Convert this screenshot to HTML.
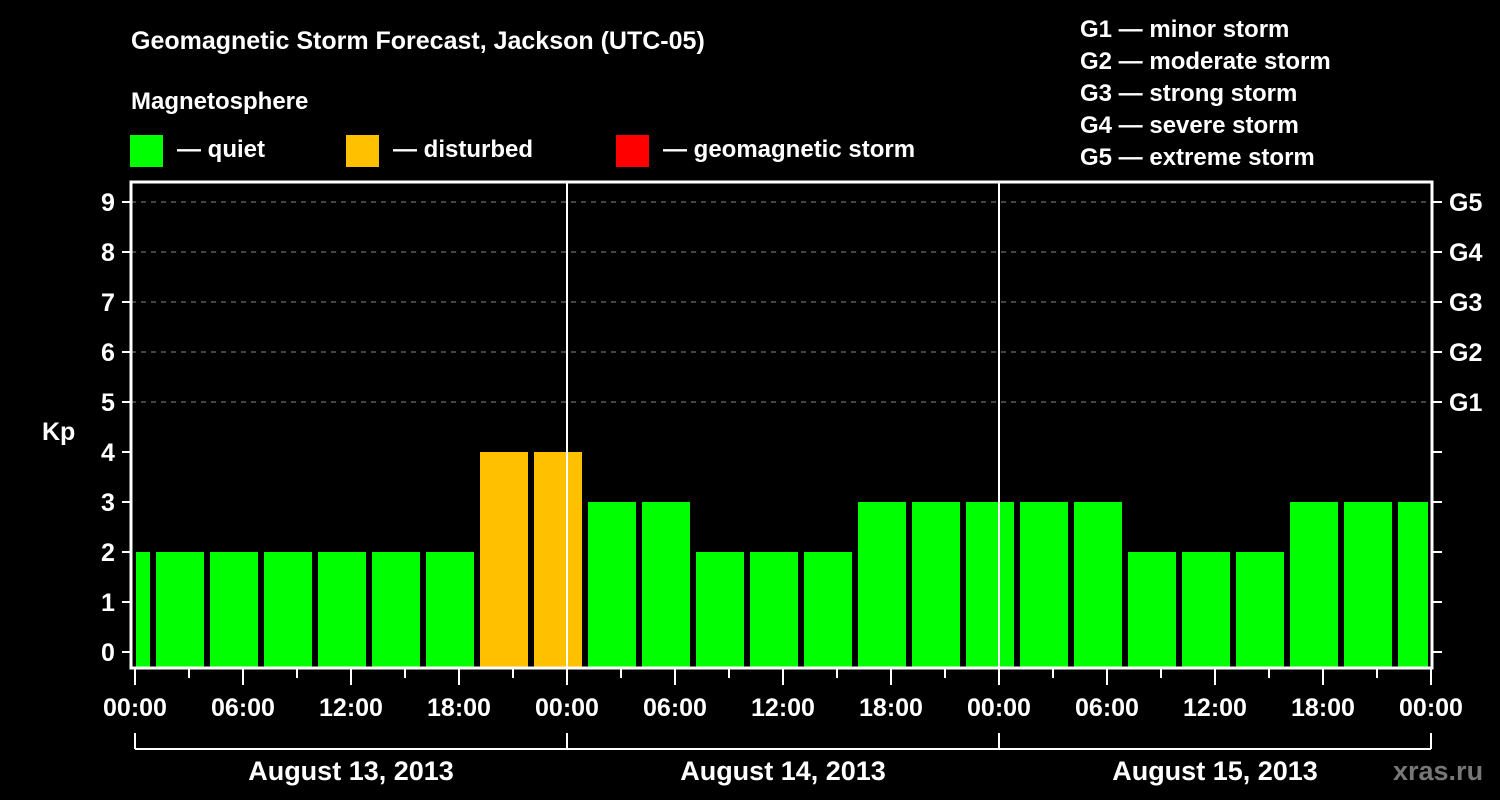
<!DOCTYPE html>
<html><head><meta charset="utf-8"><style>
html,body{margin:0;padding:0;background:#000;}
svg{display:block;font-family:"Liberation Sans",sans-serif;font-weight:bold;}
</style></head><body>
<svg id="chart" width="1500" height="800" viewBox="0 0 1500 800">
<text x="131" y="49" fill="#fff" font-size="25">Geomagnetic Storm Forecast, Jackson (UTC-05)</text>
<text x="131" y="109" fill="#fff" font-size="24">Magnetosphere</text>
<rect x="130" y="135" width="33" height="32" fill="#00ff00"/>
<text x="177" y="157" fill="#fff" font-size="24">— quiet</text>
<rect x="346" y="135" width="33" height="32" fill="#ffc000"/>
<text x="393" y="157" fill="#fff" font-size="24">— disturbed</text>
<rect x="616" y="135" width="33" height="32" fill="#ff0000"/>
<text x="663" y="157" fill="#fff" font-size="24">— geomagnetic storm</text>
<g fill="#fff" font-size="24">
<text x="1080" y="37">G1 — minor storm</text>
<text x="1080" y="69">G2 — moderate storm</text>
<text x="1080" y="101">G3 — strong storm</text>
<text x="1080" y="133">G4 — severe storm</text>
<text x="1080" y="165">G5 — extreme storm</text>
</g>
<text x="42" y="440" fill="#fff" font-size="25">Kp</text>
<text x="1393" y="780" fill="#777" font-size="27">xras.ru</text>
<g id="grid"></g><g id="bars"></g><g id="axes"></g>
</svg>
<script>
const kpValues=[2,2,2,2,2,2,2,4,4,3,3,2,2,2,3,3,3,3,3,2,2,2,3,3,3];
const kpTicks=[0,1,2,3,4,5,6,7,8,9];
const gLabels=["G1","G2","G3","G4","G5"];
const gLevels=[5,6,7,8,9];
const hourLabels=["00:00","06:00","12:00","18:00","00:00","06:00","12:00","18:00","00:00","06:00","12:00","18:00","00:00"];
const dayLabels=["August 13, 2013","August 14, 2013","August 15, 2013"];
const NS="http://www.w3.org/2000/svg";
const L=131,R=1432,T=182,B=668,X0=135,PXH=18;
const xs=h=>X0+h*PXH;
const ys=v=>652-50*v;
function mk(tag,attrs,parent){const e=document.createElementNS(NS,tag);for(const k in attrs)e.setAttribute(k,attrs[k]);parent.appendChild(e);return e;}
const grid=document.getElementById('grid'),bars=document.getElementById('bars'),axes=document.getElementById('axes');
gLevels.forEach(v=>{
 const l=mk('line',{x1:L,x2:R,y1:ys(v),y2:ys(v),stroke:'#888','stroke-width':1,'stroke-dasharray':'5,5'},grid);
 
 
});
kpValues.forEach((v,i)=>{
 const c=xs(3*i-0.5);let x1=Math.max(c-24,L+5),x2=Math.min(c+24,R-4);
 const col=v>=5?'#ff0000':(v>=4?'#ffc000':'#00ff00');
 const r=mk('rect',{x:x1,y:ys(v),width:x2-x1,height:B-ys(v),fill:col},bars);
 
 
});
[1,2].forEach(d=>{
 const l=mk('line',{x1:xs(24*d),x2:xs(24*d),y1:T,y2:B,stroke:'#fff','stroke-width':2},axes);
 
 
});
const fr=mk('rect',{x:L,y:T,width:R-L,height:B-T,fill:'none',stroke:'#fff','stroke-width':3},axes);


kpTicks.forEach(v=>{
 mk('line',{x1:122,x2:L,y1:ys(v),y2:ys(v),stroke:'#fff','stroke-width':2},axes);
 mk('line',{x1:R,x2:1442,y1:ys(v),y2:ys(v),stroke:'#fff','stroke-width':2},axes);
 const t=mk('text',{x:108,y:ys(v)+9,fill:'#fff','font-size':25,'text-anchor':'middle'},axes);
 t.textContent=v;
 
 
});
gLabels.forEach((g,i)=>{
 const t=mk('text',{x:1449,y:ys(gLevels[i])+9,fill:'#fff','font-size':25},axes);
 t.textContent=g;
 
 
});
for(let h=0;h<=72;h+=3){
 mk('line',{x1:xs(h),x2:xs(h),y1:B,y2:h%6==0?685:678,stroke:'#fff','stroke-width':2},axes);
}
hourLabels.forEach((s,i)=>{
 const t=mk('text',{x:xs(6*i),y:716,fill:'#fff','font-size':25,'text-anchor':'middle'},axes);
 t.textContent=s;
 
 
});
mk('line',{x1:xs(0),x2:xs(72),y1:749,y2:749,stroke:'#fff','stroke-width':2},axes);
for(let d=0;d<=3;d++)mk('line',{x1:xs(24*d),x2:xs(24*d),y1:733,y2:749,stroke:'#fff','stroke-width':2},axes);
dayLabels.forEach((s,i)=>{
 const t=mk('text',{x:xs(24*i+12),y:780,fill:'#fff','font-size':27,'text-anchor':'middle'},axes);
 t.textContent=s;
 
 
});
</script>
</body></html>
